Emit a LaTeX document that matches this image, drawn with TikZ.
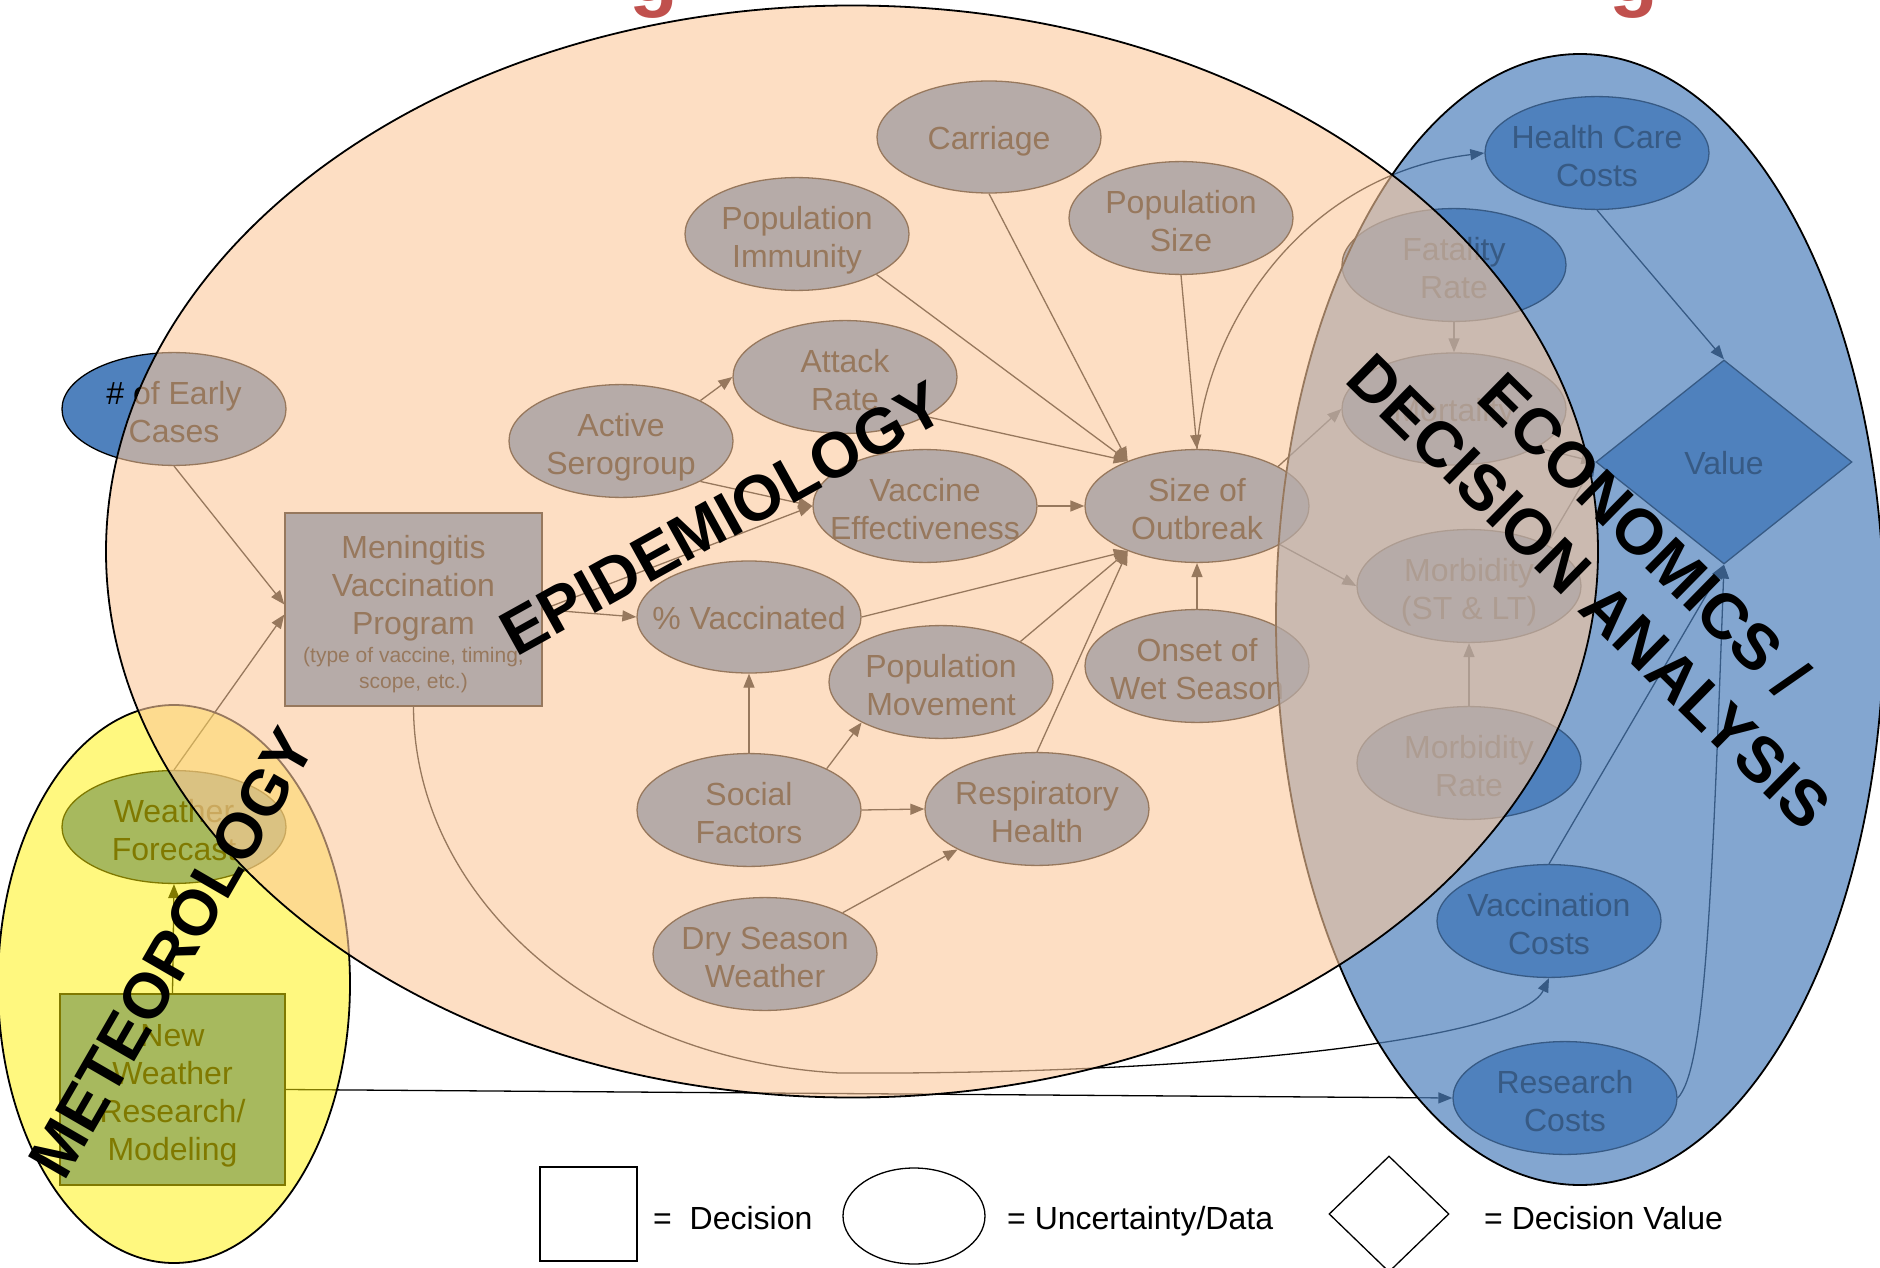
\documentclass[tikz,border=0pt]{standalone}
\usepackage{fontspec}
\setmainfont{Liberation Sans}
\usetikzlibrary{shapes.geometric,arrows.meta}
\definecolor{nodeblue}{RGB}{79,129,189}
\definecolor{peach}{RGB}{252,200,155}
\definecolor{titlered}{RGB}{192,80,77}
\newcommand{\topstrutx}{\rule{0pt}{35pt}}
\newcommand{\botstrutx}{\rule[-6.8pt]{0pt}{6.8pt}}
\begin{document}
\begin{tikzpicture}[x=1pt,y=-1pt,
  struts/.style={execute at begin node={\rule{0pt}{37pt}}, execute at end node={\rule[-6.8pt]{0pt}{6.8pt}}},
  uncert/.style={ellipse, draw=black, line width=1.3pt, fill=nodeblue, minimum width=224pt, minimum height=112pt, inner xsep=-40pt, inner ysep=0pt, align=center, font=\fontsize{32}{38}\selectfont, struts},
  decis/.style={rectangle, draw=black, line width=1.3pt, fill=nodeblue, inner sep=0pt, align=center, font=\fontsize{32}{38}\selectfont, struts},
  valnode/.style={diamond, draw=black, line width=1.3pt, fill=nodeblue, minimum width=256pt, minimum height=204pt, inner sep=0pt, font=\fontsize{32}{38}\selectfont, struts},
  arr/.style={-{Triangle[length=14pt,width=11pt]}, line width=1.3pt, draw=black},
  region/.style={draw=black, line width=1.8pt},
  biglabel/.style={font=\fontsize{64}{78}\selectfont\bfseries, align=center, inner sep=0pt},
  legtext/.style={font=\fontsize{32}{38}\selectfont, anchor=base west, inner sep=0pt},
  legshape/.style={draw=black, line width=1.3pt, inner sep=0pt},
  titleg/.style={font=\fontsize{80}{90}\selectfont\bfseries, text=titlered, anchor=base, inner sep=0pt},
]
\useasboundingbox (0,0) rectangle (1880,1268);
\fill[white] (0,0) rectangle (1880,1268);

% cut-off title letters
\begin{scope}
\clip (0,0) rectangle (1880,1268);
\node[titleg] (g1) at (654,2) {g};
\node[titleg] (g2) at (1634,2) {g};
\end{scope}

% ---------- nodes ----------
\node[uncert] (early) at (174,409) {\topstrutx\# of Early\\Cases\botstrutx};
\node[uncert] (immunity) at (797,234) {\topstrutx Population\\Immunity\botstrutx};
\node[uncert] (carriage) at (989,137) {\raisebox{3pt}{Carriage}};
\node[uncert] (popsize) at (1181,218) {\topstrutx Population\\Size\botstrutx};
\node[uncert] (attack) at (845,377) {\topstrutx Attack\\Rate\botstrutx};
\node[uncert] (serogroup) at (621,441) {\topstrutx Active\\Serogroup\botstrutx};
\node[uncert] (vaccineff) at (925,506) {\topstrutx Vaccine\\Effectiveness\botstrutx};
\node[uncert] (outbreak) at (1197,506) {\topstrutx Size of\\Outbreak\botstrutx};
\node[uncert] (vaccinated) at (749,617) {\raisebox{3pt}{\% Vaccinated}};
\node[uncert] (popmove) at (941,682) {\topstrutx Population\\Movement\botstrutx};
\node[uncert] (onset) at (1197,666) {\topstrutx Onset of\\Wet Season\botstrutx};
\node[uncert] (social) at (749,810) {\topstrutx Social\\Factors\botstrutx};
\node[uncert] (resp) at (1037,809) {\topstrutx Respiratory\\Health\botstrutx};
\node[uncert] (dry) at (765,954) {\topstrutx Dry Season\\Weather\botstrutx};
\node[decis, minimum width=257pt, minimum height=193pt] (menin) at (413.5,609.5)
  {\rule{0pt}{35pt}Meningitis\\Vaccination\\Program\\[-10pt]{\fontsize{21}{27}\selectfont (type of vaccine, timing,}\\[-12pt]{\fontsize{21}{27}\selectfont scope, etc.)}};
\node[uncert] (forecast) at (174,827) {\topstrutx Weather\\Forecast\botstrutx};
\node[decis, minimum width=225pt, minimum height=191pt] (newres) at (172.5,1089.5) {\topstrutx New\\Weather\\Research/\\Modeling\botstrutx};
\node[uncert] (hcc) at (1597,153) {\topstrutx Health Care\\Costs\botstrutx};
\node[uncert] (fatality) at (1454,265) {\topstrutx Fatality\\Rate\botstrutx};
\node[uncert] (mortality) at (1454,409) {\raisebox{3pt}{Mortality}};
\node[uncert] (morbidity) at (1469,586) {\topstrutx Morbidity\\(ST \& LT)\botstrutx};
\node[uncert] (morbrate) at (1469,763) {\topstrutx Morbidity\\Rate\botstrutx};
\node[uncert] (vcosts) at (1549,921) {\topstrutx Vaccination\\Costs\botstrutx};
\node[uncert] (rcosts) at (1565,1098) {\topstrutx Research\\Costs\botstrutx};
\node[valnode] (value) at (1724,462) {\raisebox{3pt}{Value}};

\coordinate (oUL) at (outbreak.147);
\coordinate (oLL) at (outbreak.213);

% ---------- connectors ----------
\draw[arr] (early.south) -- ([yshift=5pt]menin.west);
\draw[arr] (forecast.north) -- ([yshift=-5pt]menin.west);
\draw[arr] (newres.north) -- (forecast.south);
\draw[arr] (menin.east) -- (vaccinated.west);
\draw[arr] (menin.east) -- (vaccineff.west);
\draw[arr] (serogroup.27) -- (attack.west);
\draw[arr] (serogroup.-27) -- (vaccineff.west);
\draw[arr] (immunity.-27) -- (oUL);
\draw[arr] (carriage.south) -- (oUL);
\draw[arr] (attack.-26) -- (oUL);
\draw[arr] (popsize.south) -- (outbreak.north);
\draw[arr] (vaccineff.east) -- (outbreak.west);
\draw[arr] (vaccinated.east) -- (oLL);
\draw[arr] (popmove.27) -- (oLL);
\draw[arr] (resp.north) -- (oLL);
\draw[arr] (onset.north) -- (outbreak.south);
\draw[arr] (social.north) -- (vaccinated.south);
\draw[arr] (social.28) -- (popmove.207);
\draw[arr] (social.east) -- (resp.west);
\draw[arr] (dry.28) -- (resp.207);
\draw[arr] (outbreak.north) .. controls (1205,330) and (1300,175) .. (hcc.west);
\draw[arr] (outbreak.26) -- (mortality.west);
\draw[arr] (outbreak.-25) -- (morbidity.west);
\draw[arr] (fatality.south) -- (mortality.north);
\draw[arr] (morbrate.north) -- (morbidity.south);
\draw[arr] (hcc.south) -- (value.north);
\draw[arr] (mortality.-25) -- (value.west);
\draw[arr] (morbidity.28) -- (value.west);
\draw[arr] (vcosts.north) -- (value.south);
\draw[arr] (rcosts.east) .. controls (1705,1070) and (1712,900) .. (value.south);
\draw[arr] (menin.south) .. controls (414,900) and (600,1060) .. (839,1073) .. controls (1200,1075) and (1520,1040) .. (vcosts.south);
\draw[arr] (newres.east) -- (rcosts.west);

% ---------- translucent regions ----------
\path[region, fill=yellow, fill opacity=0.5] (174,984) ellipse [x radius=176pt, y radius=279pt];
\path[region, fill=nodeblue, fill opacity=0.7] (1580,619.5) ellipse [x radius=304pt, y radius=565.5pt];
\path[region, fill=peach, fill opacity=0.6] (852,551.5) ellipse [x radius=746pt, y radius=546pt];

% ---------- region labels ----------
\node[biglabel, rotate=29] (epi) at (722,518) {EPIDEMIOLOGY};
\node[biglabel, rotate=60] (met) at (172,953) {METEOROLOGY};
\node[biglabel, rotate=-44.5] (eco) at (1617,563) {ECONOMICS /\\DECISION ANALYSIS};

% ---------- legend ----------
\node[legshape, rectangle, minimum width=97pt, minimum height=94pt] (legdec) at (588.5,1214) {};
\node[legtext] (legdect) at (653,1229) {=\ \ Decision};
\node[legshape, ellipse, minimum width=142pt, minimum height=96pt] (legunc) at (914,1216) {};
\node[legtext] (legunct) at (1007,1229) {= Uncertainty/Data};
\node[legshape, diamond, minimum width=120pt, minimum height=116pt] (legval) at (1389,1214) {};
\node[legtext] (legvalt) at (1484,1229) {= Decision Value};
\end{tikzpicture}
\end{document}
